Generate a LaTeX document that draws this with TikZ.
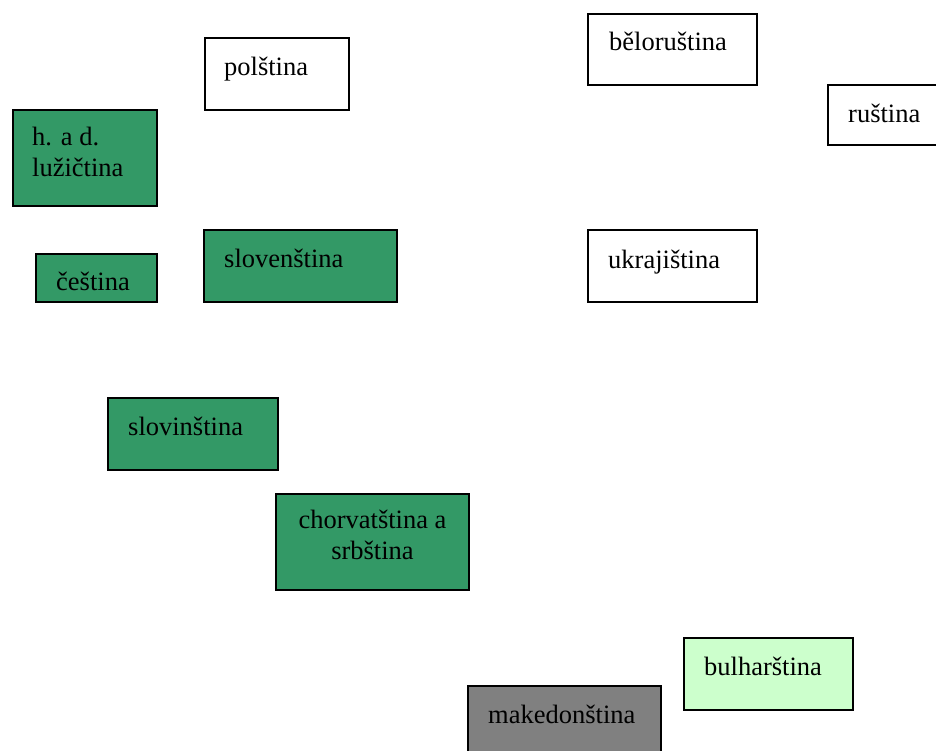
\documentclass[tikz,border=0pt]{standalone}
\usepackage{fontspec}
\setmainfont{Liberation Serif}
\usetikzlibrary{calc}
\definecolor{slgreen}{HTML}{339966}
\definecolor{lightgr}{HTML}{CCFFCC}
\definecolor{midgray}{HTML}{808080}
\newcommand{\fs}{\fontsize{26.5}{31}\selectfont}
\tikzset{
  box/.style={draw, line width=2pt, anchor=north west, inner sep=0pt, font=\fs},
  lbl/.style={anchor=base west, inner sep=0pt, font=\fs, align=left},
  clbl/.style={anchor=base, inner sep=0pt, font=\fs, align=center},
}
\begin{document}
\begin{tikzpicture}[x=1pt,y=-1pt]
\clip (0,0) rectangle (936,751);
\fill[white] (0,0) rectangle (936,751);
% boxes
\node[box, minimum width=144, minimum height=72] (pol) at (204,37) {};
\node[lbl] (polt) at ($(pol.north west)+(20,39)$) {polština};

\node[box, minimum width=169, minimum height=71] (bel) at (587,13) {};
\node[lbl] (belt) at ($(bel.north west)+(22,38)$) {běloruština};

\node[box, minimum width=130, minimum height=60] (rus) at (827,84) {};
\node[lbl] (rust) at ($(rus.north west)+(21,39)$) {ruština};

\node[box, fill=slgreen, minimum width=144, minimum height=96] (luz) at (12,109) {};
\node[lbl] (luzt) at ($(luz.north west)+(20,68)$) {h. a d.\\lužičtina};

\node[box, fill=slgreen, minimum width=121, minimum height=48] (ces) at (35,253) {};
\node[lbl] (cest) at ($(ces.north west)+(21,37)$) {čeština};

\node[box, fill=slgreen, minimum width=193, minimum height=72] (slk) at (203,229) {};
\node[lbl] (slkt) at ($(slk.north west)+(21,38)$) {slovenština};

\node[box, minimum width=169, minimum height=72] (ukr) at (587,229) {};
\node[lbl] (ukrt) at ($(ukr.north west)+(21,39)$) {ukrajiština};

\node[box, fill=slgreen, minimum width=170, minimum height=72] (slv) at (107,397) {};
\node[lbl] (slvt) at ($(slv.north west)+(21,38)$) {slovinština};

\node[box, fill=slgreen, minimum width=193, minimum height=96] (chs) at (275,493) {};
\node[clbl] (chst) at ($(chs.north)+(0,66)$) {chorvatština a\\srbština};

\node[box, fill=lightgr, minimum width=169, minimum height=72] (bul) at (683,637) {};
\node[lbl] (bult) at ($(bul.north west)+(21,38)$) {bulharština};

\node[box, fill=midgray, minimum width=193, minimum height=100] (mak) at (467,685) {};
\node[lbl] (makt) at ($(mak.north west)+(21,38)$) {makedonština};
\end{tikzpicture}
\end{document}
